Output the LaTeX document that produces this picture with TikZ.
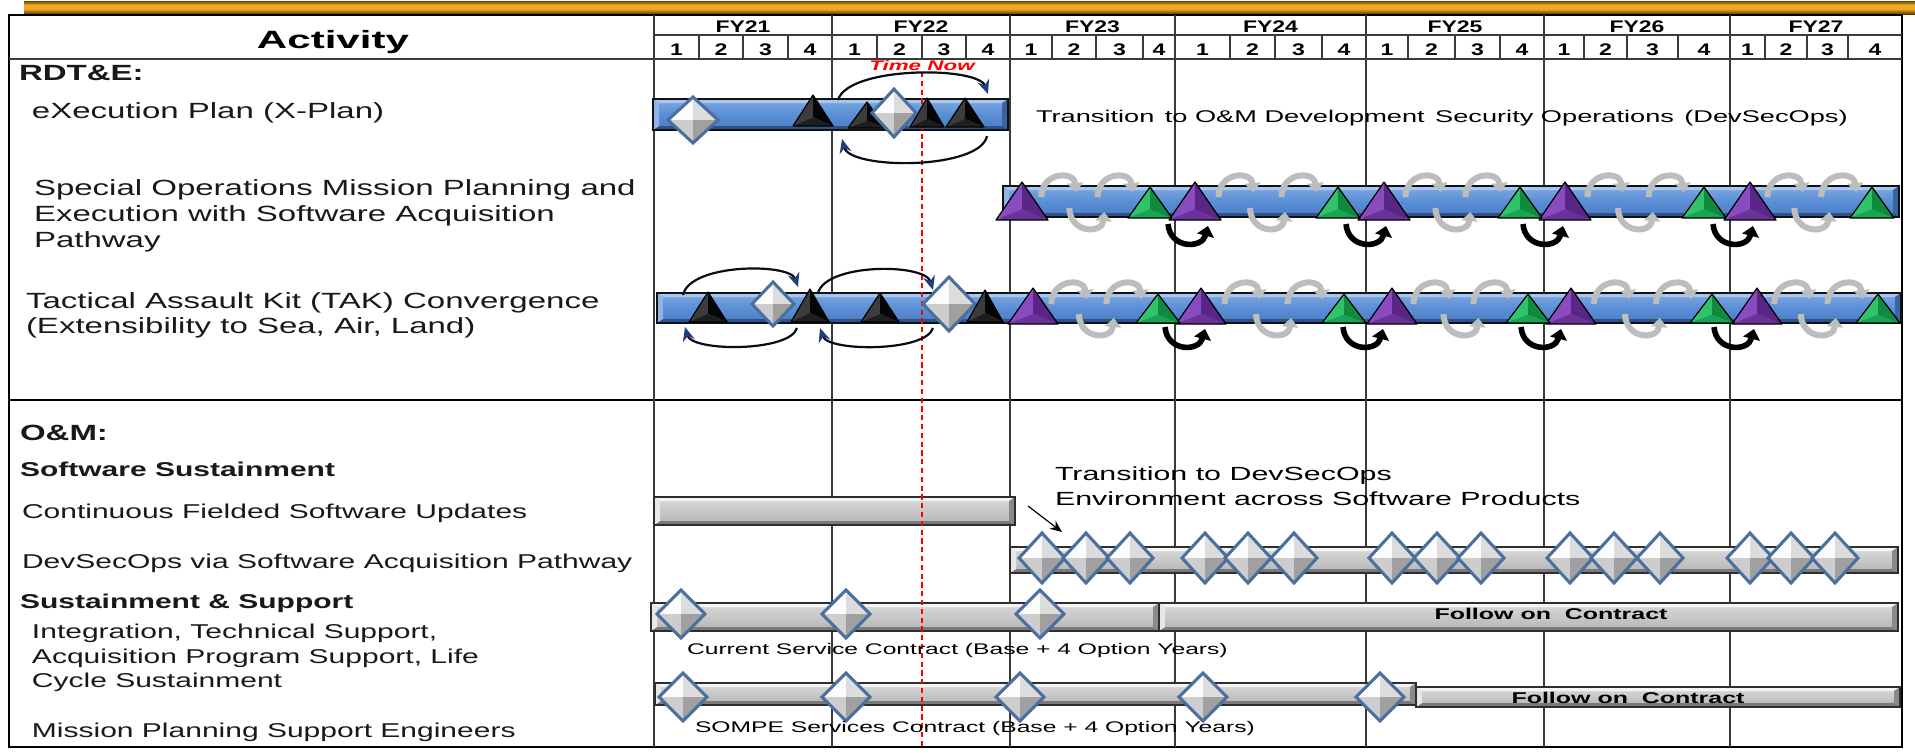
\documentclass[tikz,border=0pt]{standalone}
\usepackage{fontspec}
\setmainfont{Liberation Sans}
\newfontfamily\lf[FakeStretch=1.5]{Liberation Sans}
\newfontfamily\hf[FakeStretch=1.37]{Liberation Sans}
\newfontfamily\cf[FakeStretch=1.6]{Liberation Sans}
\usetikzlibrary{arrows.meta}
% bar colours
\definecolor{bTop}{HTML}{7FA9E2}\definecolor{bMid}{HTML}{5A8ED6}\definecolor{bBot}{HTML}{4A7CC0}
\definecolor{bHi}{HTML}{A8C6EE}\definecolor{bLo}{HTML}{2E5189}\definecolor{bL}{HTML}{8FB4E8}\definecolor{bR}{HTML}{3A64A2}\definecolor{bOut}{HTML}{111111}
\definecolor{gTop}{HTML}{DADADA}\definecolor{gMid}{HTML}{C8C8C8}\definecolor{gBot}{HTML}{B2B2B2}
\definecolor{gHi}{HTML}{F4F4F4}\definecolor{gLo}{HTML}{7A7A7A}\definecolor{gL}{HTML}{E8E8E8}\definecolor{gR}{HTML}{8A8A8A}\definecolor{gOut}{HTML}{2E2E2E}
% diamond colours
\definecolor{dTL}{HTML}{FCFCFC}\definecolor{dTR}{HTML}{DCDCDC}\definecolor{dBL}{HTML}{CDCDCD}\definecolor{dBR}{HTML}{A0A0A0}\definecolor{dOut}{HTML}{4A6E9E}
% triangle colours
\definecolor{pL}{HTML}{8A4BC0}\definecolor{pR}{HTML}{5A2686}\definecolor{pB}{HTML}{6B3399}
\definecolor{grL}{HTML}{2FC46A}\definecolor{grR}{HTML}{0F8A3E}\definecolor{grB}{HTML}{1AA552}
\definecolor{kL}{HTML}{3C3C3C}\definecolor{kR}{HTML}{050505}\definecolor{kB}{HTML}{1E1E1E}
\definecolor{navy}{HTML}{1F3E7A}\definecolor{loopgrey}{HTML}{BDBDBD}
\definecolor{gridc}{HTML}{3A3A3A}
\definecolor{orTop}{HTML}{6E4500}\definecolor{orMid}{HTML}{EDAA22}\definecolor{orBot}{HTML}{5E3A00}

\newcommand\GBar[5]{% x0 y0 x1 y1 prefix
  \shade[top color=#5Top, bottom color=#5Bot, middle color=#5Mid] (#1,#2) rectangle (#3,#4);
  \fill[#5Hi] (#1,#2) -- (#3,#2) -- ({#3-6},{#2+4}) -- ({#1+6},{#2+4}) -- cycle;
  \fill[#5Lo] (#1,#4) -- (#3,#4) -- ({#3-6},{#4-4}) -- ({#1+6},{#4-4}) -- cycle;
  \fill[#5L] (#1,#2) -- ({#1+6},{#2+4}) -- ({#1+6},{#4-4}) -- (#1,#4) -- cycle;
  \fill[#5R] (#3,#2) -- ({#3-6},{#2+4}) -- ({#3-6},{#4-4}) -- (#3,#4) -- cycle;
  \draw[#5Out, line width=0.9pt] (#1,#2) rectangle (#3,#4);}
\newcommand\Dia[4]{% x y hw hh
  \fill[dTL] ({#1-#3},#2) -- (#1,{#2-#4}) -- (#1,#2) -- cycle;
  \fill[dTR] (#1,{#2-#4}) -- ({#1+#3},#2) -- (#1,#2) -- cycle;
  \fill[dBL] ({#1-#3},#2) -- (#1,{#2+#4}) -- (#1,#2) -- cycle;
  \fill[dBR] ({#1+#3},#2) -- (#1,{#2+#4}) -- (#1,#2) -- cycle;
  \draw[dOut, line width=1.5pt, line join=miter] ({#1-#3},#2) -- (#1,{#2-#4}) -- ({#1+#3},#2) -- (#1,{#2+#4}) -- cycle;}
\newcommand\Tri[7]{% xc apex base hw light dark bottom
  \fill[#5] ({#1-#4},#3) -- (#1,#2) -- (#1,{#3-0.28*(#3-#2)}) -- cycle;
  \fill[#6] (#1,#2) -- ({#1+#4},#3) -- (#1,{#3-0.28*(#3-#2)}) -- cycle;
  \fill[#7] ({#1-#4},#3) -- (#1,{#3-0.28*(#3-#2)}) -- ({#1+#4},#3) -- cycle;
  \draw[black, line width=0.6pt, line join=round] ({#1-#4},#3) -- (#1,#2) -- ({#1+#4},#3) -- cycle;}
\newcommand\Hump[2]{\draw[gloop] ({#1-18},{#2+11}) .. controls ({#1-17},{#2-15}) and ({#1+15},{#2-15}) .. ({#1+17},{#2+6});}
\newcommand\Cup[2]{\draw[gloop] ({#1-18},{#2-9}) .. controls ({#1-17},{#2+17}) and ({#1+15},{#2+17}) .. ({#1+17},{#2-5});}
\newcommand\Blk[2]{\draw[bloop] ({#1-22},{#2}) .. controls ({#1-20},{#2+25}) and ({#1+12},{#2+25}) .. ({#1+18},{#2+2});}

\begin{document}
\begin{tikzpicture}[x=0.5pt,y=-0.5pt,
  every node/.style={inner sep=0pt, outer sep=0pt},
  lt/.style={anchor=base west, text=black!90},
  hdr/.style={anchor=base, font=\hf\bfseries\fontsize{8.4}{10}\selectfont},
  grid/.style={draw=gridc, line width=0.75pt},
  gloop/.style={draw=loopgrey, line width=3pt, -{Triangle[length=4.5pt,width=8pt]}},
  bloop/.style={draw=black, line width=2.8pt, -{Triangle[length=5pt,width=8.5pt]}},
  cyc/.style={draw=black!80!navy, line width=1.1pt, -{Stealth[length=7pt,width=6pt,color=navy]}},
  tnl/.style={draw=red, line width=0.9pt, dash pattern=on 2.6pt off 1.8pt}]
\useasboundingbox (0,0) rectangle (1915,752);
\fill[white] (0,0) rectangle (1915,752);
% gold ribbon
\fill[orMid] (24,1) rectangle (1915,13);
\shade[top color=orTop, bottom color=orMid] (24,1) rectangle (1915,5);
\shade[top color=orMid, bottom color=orBot] (24,9) rectangle (1915,14);
% table frame
\draw[black, line width=1pt] (9,15) rectangle (1902,747);
\draw[grid] (654,35) -- (1902,35);
\draw[grid] (9,59) -- (1902,59);
\draw[black, line width=1.4pt] (9,400) -- (1902,400);
% header: years and quarters
\foreach \y/\qa/\qb/\qc/\qd/\qe in {21/654/699/743/788/832, 22/832/877/922/966/1010, 23/1010/1052/1096/1143/1175, 24/1175/1230/1275/1322/1366, 25/1366/1408/1455/1500/1544, 26/1544/1584/1627/1678/1730, 27/1730/1765/1807/1848/1902}{
  \draw[grid] (\qa,15) -- (\qa,747);
  \draw[grid] (\qb,35) -- (\qb,59);
  \draw[grid] (\qc,35) -- (\qc,59);
  \draw[grid] (\qd,35) -- (\qd,59);
  \node[hdr] (fy\y) at ({(\qa+\qe)/2},32) {FY\y};
  \node[hdr] (q\y a) at ({(\qa+\qb)/2},55) {1};
  \node[hdr] (q\y b) at ({(\qb+\qc)/2},55) {2};
  \node[hdr] (q\y c) at ({(\qc+\qd)/2},55) {3};
  \node[hdr] (q\y d) at ({(\qd+\qe)/2},55) {4};
}
\node[anchor=base] (act) at (333,48) {\resizebox{76pt}{\height}{\bfseries\fontsize{12.5}{15}\selectfont Activity}};
% left column texts
\node[lt] (rdte) at (19,80) {\lf\bfseries\fontsize{11}{13}\selectfont RDT\&E:};
\node[lt] (xplan) at (32,118) {\lf\fontsize{11}{13}\selectfont eXecution Plan (X-Plan)};
\node[lt] (som1) at (34,195) {\lf\fontsize{11}{13}\selectfont Special Operations Mission Planning and};
\node[lt] (som2) at (34,221.5) {\lf\fontsize{11}{13}\selectfont Execution with Software Acquisition};
\node[lt] (som3) at (34,247.5) {\lf\fontsize{11}{13}\selectfont Pathway};
\node[lt] (tak1) at (26,308) {\lf\fontsize{11}{13}\selectfont Tactical Assault Kit (TAK) Convergence};
\node[lt] (tak2) at (26,333) {\lf\fontsize{11}{13}\selectfont (Extensibility to Sea, Air, Land)};
\node[lt] (om) at (20,440) {\lf\bfseries\fontsize{11}{13}\selectfont O\&M:};
\node[lt] (sws) at (20,476) {\lf\bfseries\fontsize{10}{12}\selectfont Software Sustainment};
\node[lt] (cfsu) at (22,518) {\lf\fontsize{10}{12}\selectfont Continuous Fielded Software Updates};
\node[lt] (dso) at (22,568) {\lf\fontsize{10}{12}\selectfont DevSecOps via Software Acquisition Pathway};
\node[lt] (sas) at (20,608) {\lf\bfseries\fontsize{10}{12}\selectfont Sustainment \& Support};
\node[lt] (int1) at (32,638) {\lf\fontsize{10}{12}\selectfont Integration, Technical Support,};
\node[lt] (int2) at (32,663) {\lf\fontsize{10}{12}\selectfont Acquisition Program Support, Life};
\node[lt] (int3) at (32,687) {\lf\fontsize{10}{12}\selectfont Cycle Sustainment};
\node[lt] (mpse) at (32,737) {\lf\fontsize{10}{12}\selectfont Mission Planning Support Engineers};
% ---------- RDT&E bars ----------
\GBar{653}{99}{1008}{130}{b}
\GBar{1003}{186}{1899}{217}{b}
\GBar{657}{293}{1901}{323}{b}
% ---------- O&M bars ----------
\GBar{654}{497}{1015}{525}{g}
\GBar{1010}{547}{1898}{573}{g}
\GBar{651}{603}{1159}{631}{g}
\GBar{1159}{603}{1898}{631}{g}
\GBar{655}{683}{1416}{705}{g}
\GBar{1416}{687}{1900}{707}{g}
% time now
\node[anchor=base, text=red] (tnow) at (922,70) {\cf\bfseries\itshape\fontsize{7}{8}\selectfont Time Now};
\coordinate (tnA) at (922,72);
\coordinate (tnB) at (922,746);
\draw[tnl] (tnA) -- (tnB);
% ---------- X-Plan markers ----------
\draw[cyc] (838,100) .. controls (848,66) and (978,66) .. (988,94);
\draw[cyc] (987,136) .. controls (980,170) and (850,170) .. (842,139);
\Tri{813}{95}{126}{20}{kL}{kR}{kB}
\Tri{867}{102}{128}{19}{kL}{kR}{kB}
\Tri{927}{98}{127}{17}{kL}{kR}{kB}
\Tri{965}{98}{127}{19}{kL}{kR}{kB}
\Dia{693}{120}{25}{23}
\Dia{894}{113}{22}{24}
% ---------- TAK early markers ----------
\draw[cyc] (683,295) .. controls (690,263) and (790,263) .. (798,287);
\draw[cyc] (797,328) .. controls (790,352) and (692,352) .. (685,327);
\draw[cyc] (818,293) .. controls (826,263) and (925,263) .. (933,290);
\draw[cyc] (933,328) .. controls (926,352) and (828,352) .. (820,328);
\Tri{708}{292}{322}{19}{kL}{kR}{kB}
\Dia{773}{304}{21}{22}
\Tri{810}{289}{322}{19}{kL}{kR}{kB}
\Tri{880}{293}{322}{19}{kL}{kR}{kB}
\Dia{949}{304}{26}{27}
\Tri{985}{290}{322}{18}{kL}{kR}{kB}
% ---------- grey loops ----------
\foreach \p/\g in {1022/1150, 1195/1338, 1384/1520, 1565/1704, 1750/1872}{
  \pgfmathsetmacro\ha{\p+0.29*(\g-\p)}
  \pgfmathsetmacro\hb{\p+0.73*(\g-\p)}
  \pgfmathsetmacro\cu{\p+0.51*(\g-\p)}
  \Hump{\ha}{186}\Hump{\hb}{186}\Cup{\cu}{217}
}
\foreach \p/\g in {1033/1158, 1201/1344, 1392/1528, 1571/1712, 1757/1878}{
  \pgfmathsetmacro\ha{\p+0.29*(\g-\p)}
  \pgfmathsetmacro\hb{\p+0.73*(\g-\p)}
  \pgfmathsetmacro\cu{\p+0.51*(\g-\p)}
  \Hump{\ha}{293}\Hump{\hb}{293}\Cup{\cu}{323}
}
% ---------- purple / green triangles ----------
\foreach \x in {1022,1195,1384,1565,1750}{\Tri{\x}{182}{220}{26}{pL}{pR}{pB}}
\foreach \x in {1150,1338,1520,1704,1872}{\Tri{\x}{187}{218}{22}{grL}{grR}{grB}}
\foreach \x in {1033,1201,1392,1571,1757}{\Tri{\x}{288}{324}{25}{pL}{pR}{pB}}
\foreach \x in {1158,1344,1528,1712,1878}{\Tri{\x}{294}{323}{22}{grL}{grR}{grB}}
% black loops
\foreach \x in {1190,1368,1545,1735}{\Blk{\x}{224}}
\foreach \x in {1187,1365,1543,1736}{\Blk{\x}{327}}
% ---------- O&M diamonds ----------
\foreach \x in {1042,1086,1130,1205,1248,1294,1392,1437,1481,1570,1614,1660,1750,1791,1835}{\Dia{\x}{558}{23}{25}}
\foreach \x in {681,846,1040}{\Dia{\x}{614}{24}{24}}
\foreach \x in {683,846,1020,1203,1380}{\Dia{\x}{697}{24}{24}}
% ---------- chart texts ----------
\node[anchor=base west] (trom) at (1036,122) {\cf\fontsize{8.5}{10}\selectfont Transition\, to O\&M Development\, Security Operations\, (DevSecOps)};
\node[anchor=base west] (trd1) at (1055,480) {\cf\fontsize{9.5}{11}\selectfont Transition to DevSecOps};
\node[anchor=base west] (trd2) at (1055,505) {\cf\fontsize{9.5}{11}\selectfont Environment across Software Products};
\coordinate (arA) at (1028,506);
\coordinate (arB) at (1062,532);
\draw[black, line width=0.6pt, -{Stealth[length=6pt,width=5pt]}] (arA) -- (arB);
\node[anchor=base west] (csc) at (687,654) {\cf\fontsize{7.7}{9}\selectfont Current Service Contract (Base + 4 Option Years)};
\node[anchor=base west] (ssc) at (695,732) {\cf\fontsize{7.7}{9}\selectfont SOMPE Services Contract (Base + 4 Option Years)};
\node[anchor=base] (foc1) at (1551,619) {\cf\bfseries\fontsize{7.8}{9}\selectfont Follow on\ \ Contract};
\node[anchor=base] (foc2) at (1628,703) {\cf\bfseries\fontsize{7.8}{9}\selectfont Follow on\ \ Contract};
\end{tikzpicture}
\end{document}
